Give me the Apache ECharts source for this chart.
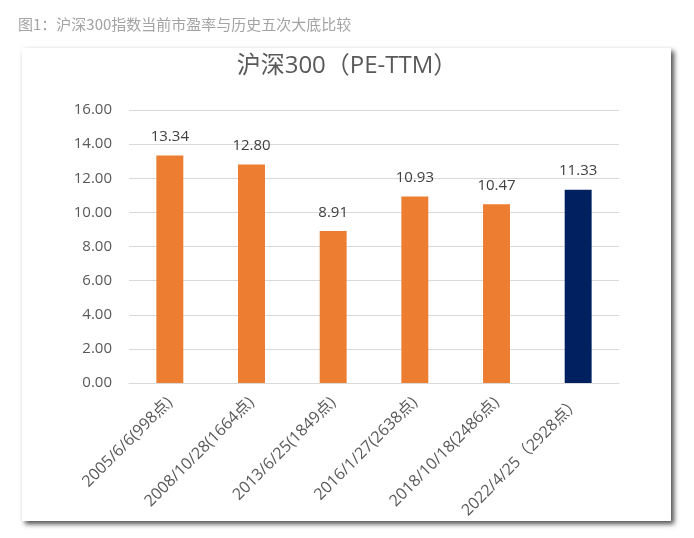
<!DOCTYPE html>
<html>
<head>
<meta charset="utf-8">
<script src="https://cdn.jsdelivr.net/npm/echarts@6/dist/echarts.min.js"></script>
<style>
html,body{margin:0;padding:0;background:#fff;}
#c{width:694px;height:538px;}
</style>
</head>
<body>
<div id="c"></div>
<script>
const caption = '图1：沪深300指数当前市盈率与历史五次大底比较';
const chartTitle = '沪深300（PE-TTM）';
const categories = ['2005/6/6(998点)', '2008/10/28(1664点)', '2013/6/25(1849点)', '2016/1/27(2638点)', '2018/10/18(2486点)', '2022/4/25（2928点）'];
const peValues = [13.34, 12.80, 8.91, 10.93, 10.47, 11.33];
const barColors = ['#ED7D31', '#ED7D31', '#ED7D31', '#ED7D31', '#ED7D31', '#002060'];

const chart = echarts.init(document.getElementById('c'), null, {renderer: 'canvas'});
const font = '"Open Sans", "Noto Sans CJK SC", sans-serif';
const cjk = '"Noto Sans CJK SC", sans-serif';
chart.setOption({
  backgroundColor: '#fff',
  animation: false,
  graphic: [
    {type: 'rect', z: -10, shape: {x: 22, y: 48, width: 649, height: 473},
     style: {fill: '#fff', shadowBlur: 5, shadowOffsetX: 3, shadowOffsetY: 3, shadowColor: 'rgba(0,0,0,0.7)'}},
    {type: 'text', left: 18, top: 17, style: {text: caption, fill: '#a3a3a3', font: '15px ' + cjk}}
  ],
  title: {
    text: chartTitle, left: 'center', top: 49,
    textStyle: {color: '#595959', fontSize: 24, fontWeight: 'normal', fontFamily: font}
  },
  grid: {left: 129, right: 75, top: 110, bottom: 155},
  xAxis: {
    type: 'category', data: categories,
    axisLine: {show: true, lineStyle: {color: '#d9d9d9'}},
    axisTick: {show: false},
    axisLabel: {rotate: 45, interval: 0, color: '#595959', fontSize: 16, fontFamily: font, margin: 17}
  },
  yAxis: {
    type: 'value', min: 0, max: 16, interval: 2,
    axisLine: {show: false}, axisTick: {show: false},
    splitLine: {lineStyle: {color: '#d9d9d9'}},
    axisLabel: {color: '#595959', fontSize: 15, fontFamily: font, margin: 17, formatter: v => v.toFixed(2)}
  },
  series: [{
    type: 'bar', barWidth: '33%',
    data: peValues.map((v, i) => ({value: v, itemStyle: {color: barColors[i]}})),
    label: {show: true, position: 'top', distance: 11, color: '#404040', fontSize: 15, fontFamily: font,
            formatter: p => p.value.toFixed(2)}
  }]
});
</script>
</body>
</html>
